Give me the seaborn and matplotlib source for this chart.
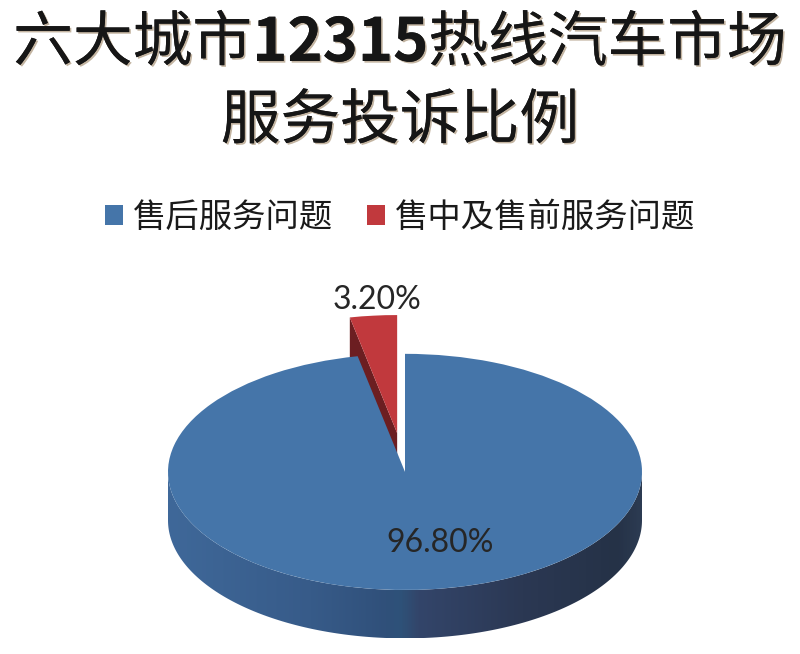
import numpy as np
import matplotlib
matplotlib.use("Agg")
import matplotlib.pyplot as plt
import matplotlib.patheffects as pe
from matplotlib.patches import Polygon, Patch
from matplotlib.colors import LinearSegmentedColormap
import seaborn as sns

# data
categories = ["售后服务问题", "售中及售前服务问题"]
shares = [96.8, 3.2]
colors = ["#4575a9", "#c1393d"]
title_parts = ["六大城市", "12315", "热线汽车市场"]
title_line2 = "服务投诉比例"

sns.set_theme(style="white")
plt.rcParams['font.family'] = ['Noto Sans CJK SC', 'DejaVu Sans']

fig = plt.figure(figsize=(8, 6.54), dpi=100)

# title with a soft brown shadow, digits in bold
shadow = [pe.withSimplePatchShadow(offset=(1.2, -1.2), shadow_rgbFace="#7a5a30", alpha=0.45), pe.Normal()]
y1 = 1 - 44 / 654
weights = ["medium", "bold", "medium"]
parts = [fig.text(0, y1, s, ha="left", va="center", fontsize=43, fontweight=w,
                  color="#161616", path_effects=shadow)
         for s, w in zip(title_parts, weights)]
fig.canvas.draw()
r = fig.canvas.get_renderer()
widths = [p.get_window_extent(r).width / fig.bbox.width for p in parts]
x = 0.5 - sum(widths) / 2
for p, w in zip(parts, widths):
    p.set_x(x)
    x += w
fig.text(0.5, 1 - 122 / 654, title_line2, ha="center", va="center", fontsize=43,
         fontweight="medium", color="#161616", path_effects=shadow)

# pie axes (squashed vertically to fake the 3d tilt)
ax = fig.add_axes([168 / 800, 5 / 654, 474 / 800, 366 / 654])
depth = 0.41

wedges, texts, autotexts = ax.pie(
    shares, colors=colors, startangle=90, counterclock=False,
    explode=[0, 0.33], autopct="%.2f%%", pctdistance=0.6,
    wedgeprops=dict(linewidth=0), textprops=dict(fontsize=23, family="Lato", color="#262626"))
ax.set_aspect("auto")
ax.axis("off")

blue, red = wedges
blue.set_zorder(4)
red.set_zorder(3)

# side wall of the big slice: front half of the cylinder, shaded left to right
t = np.linspace(np.pi, 2 * np.pi, 200)
top = np.column_stack([np.cos(t), np.sin(t)])
bottom = np.column_stack([np.cos(t[::-1]), np.sin(t[::-1]) - depth])
side = Polygon(np.vstack([top, bottom]), closed=True, facecolor="none", edgecolor="none")
ax.add_patch(side)
side_cmap = LinearSegmentedColormap.from_list("side", [
    (0.0, "#3f6899"), (0.3, "#375b89"), (0.46, "#30507a"), (0.49, "#2e5279"),
    (0.53, "#33456a"), (0.75, "#2b3853"), (0.95, "#253247"), (1.0, "#2c3b52")])
grad = np.linspace(0, 1, 400).reshape(1, -1)
img = ax.imshow(grad, cmap=side_cmap, extent=(-1, 1, -1 - depth, 0), aspect="auto",
                origin="lower", zorder=2)
img.set_clip_path(side)
ax.set_xlim(-1, 1)
ax.set_ylim(-1.5, 1.6)

# cut face of the pulled-out red slice
cx, cy = red.center
a = np.deg2rad(max(red.theta1, red.theta2))
ox, oy = cx + np.cos(a), cy + np.sin(a)
face = Polygon([[cx, cy], [ox, oy], [ox, oy - depth], [cx, cy - depth]], closed=True,
               facecolor="#6c1e21", edgecolor="none", zorder=2.5)
ax.add_patch(face)

# percentage labels
mid = np.deg2rad((red.theta1 + red.theta2) / 2)
autotexts[1].set_position((cx + 1.13 * np.cos(mid) + 0.03, cy + 1.13 * np.sin(mid)))
autotexts[0].set_position((0.15, -0.6))
for tx in autotexts:
    tx.set_zorder(6)

# legend
handles = [Patch(facecolor=c, edgecolor="none") for c in colors]
fig.legend(handles, categories, loc="center", bbox_to_anchor=(0.5, 1 - 217 / 654), ncol=2,
           frameon=False, fontsize=24, handlelength=0.55, handleheight=0.55,
           handletextpad=0.3, columnspacing=1.0, labelcolor="#1a1a1a")

fig.savefig("out.png", dpi=100, facecolor="white")
